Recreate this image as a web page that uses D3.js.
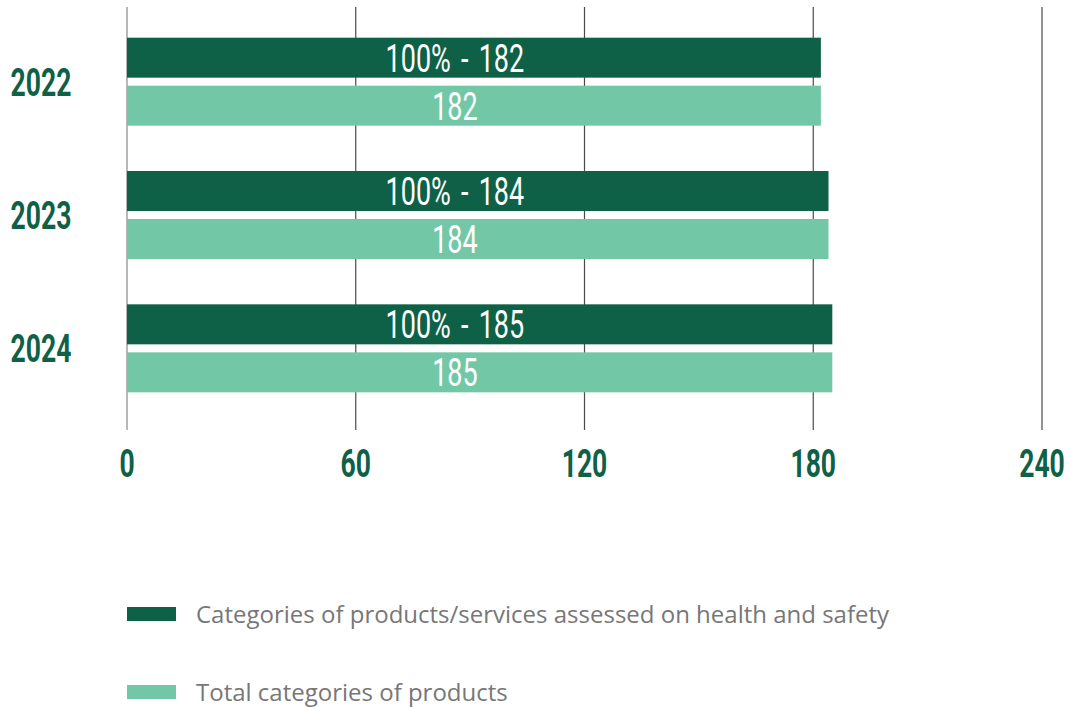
<!DOCTYPE html>
<html>
<head>
<meta charset="utf-8">
<script src="https://cdn.jsdelivr.net/npm/d3@7"></script>
<style>
  body { margin: 0; background: #fff; }
  svg { display: block; }
</style>
</head>
<body>
<div id="vis"></div>
<script>
const FRAME_WIDTH = 1070;
const FRAME_HEIGHT = 707;

const years = ["2022", "2023", "2024"];
const assessed = [182, 184, 185];
const totals = [182, 184, 185];
const assessedLabels = ["100% - 182", "100% - 184", "100% - 185"];
const tickValues = [0, 60, 120, 180, 240];
const legendLabels = ["Categories of products/services assessed on health and safety",
                      "Total categories of products"];

const DARK = "#0e6146";
const LIGHT = "#72c8a6";
const NUM_FONT = "Roboto, sans-serif";
const SQUEEZE = 0.68; // numbers in the reference are a tall condensed face

const FRAME = d3.select("#vis")
  .append("svg")
    .attr("width", FRAME_WIDTH)
    .attr("height", FRAME_HEIGHT);

const X_SCALE = d3.scaleLinear()
  .domain([0, 240])
  .range([127, 1042]);

// one band per year, each holding the two bars
const Y_SCALE = d3.scaleBand()
  .domain(years)
  .range([15, 415]);

const BAR_H = 40;
const GAP = 8;

const groupTop = (y) => Y_SCALE(y) + (Y_SCALE.bandwidth() - (2 * BAR_H + GAP)) / 2;

// condensed number text centred on (x, y)
function numText(sel, x, y, squeeze) {
  return sel
    .attr("transform", (d, i) => "translate(" + x(d, i) + "," + y(d, i) + ") scale(" + (squeeze || SQUEEZE) + ",1)")
    .attr("text-anchor", "middle")
    .attr("font-family", NUM_FONT);
}

// gridlines
FRAME.append("g")
  .selectAll("line")
  .data(tickValues)
  .enter()
  .append("line")
    .attr("x1", d => X_SCALE(d))
    .attr("x2", d => X_SCALE(d))
    .attr("y1", 7)
    .attr("y2", 430)
    .attr("stroke", (d, i) => i === 0 ? "#888" : "#4a4a4a")
    .attr("stroke-width", 1.2);

// tick labels
numText(FRAME.append("g")
  .selectAll("text")
  .data(tickValues)
  .enter()
  .append("text"), d => X_SCALE(d), () => 477)
    .attr("font-weight", "bold")
    .attr("font-size", 39)
    .attr("fill", DARK)
    .text(d => d);

// dark bars
FRAME.append("g")
  .selectAll("rect")
  .data(assessed)
  .enter()
  .append("rect")
    .attr("x", X_SCALE(0))
    .attr("y", (d, i) => groupTop(years[i]))
    .attr("width", d => X_SCALE(d) - X_SCALE(0))
    .attr("height", BAR_H)
    .attr("fill", DARK);

// light bars
FRAME.append("g")
  .selectAll("rect")
  .data(totals)
  .enter()
  .append("rect")
    .attr("x", X_SCALE(0))
    .attr("y", (d, i) => groupTop(years[i]) + BAR_H + GAP)
    .attr("width", d => X_SCALE(d) - X_SCALE(0))
    .attr("height", BAR_H)
    .attr("fill", LIGHT);

// labels inside bars
numText(FRAME.append("g")
  .selectAll("text")
  .data(assessedLabels)
  .enter()
  .append("text"), () => X_SCALE(86), (d, i) => groupTop(years[i]) + BAR_H / 2 + 14, 0.71)
    .attr("font-size", 38)
    .attr("word-spacing", 5)
    .attr("fill", "#fff")
    .text(d => d);

numText(FRAME.append("g")
  .selectAll("text")
  .data(totals)
  .enter()
  .append("text"), () => X_SCALE(86), (d, i) => groupTop(years[i]) + BAR_H + GAP + BAR_H / 2 + 14, 0.71)
    .attr("font-size", 38)
    .attr("fill", "#fff")
    .text(d => d);

// year labels
numText(FRAME.append("g")
  .selectAll("text")
  .data(years)
  .enter()
  .append("text"), () => 41, d => groupTop(d) + BAR_H + GAP / 2 + 14)
    .attr("font-weight", "bold")
    .attr("font-size", 39)
    .attr("fill", DARK)
    .text(d => d);

// legend
const legend = FRAME.append("g")
  .selectAll("g")
  .data(legendLabels)
  .enter()
  .append("g")
    .attr("transform", (d, i) => "translate(127," + (607 + i * 78) + ")");

legend.append("rect")
  .attr("width", 49)
  .attr("height", 14)
  .attr("fill", (d, i) => i === 0 ? DARK : LIGHT);

legend.append("text")
  .attr("x", 69)
  .attr("y", 16)
  .attr("font-family", "'Open Sans', sans-serif")
  .attr("font-size", 24)
  .attr("fill", "#777")
  .text(d => d);
</script>
</body>
</html>
